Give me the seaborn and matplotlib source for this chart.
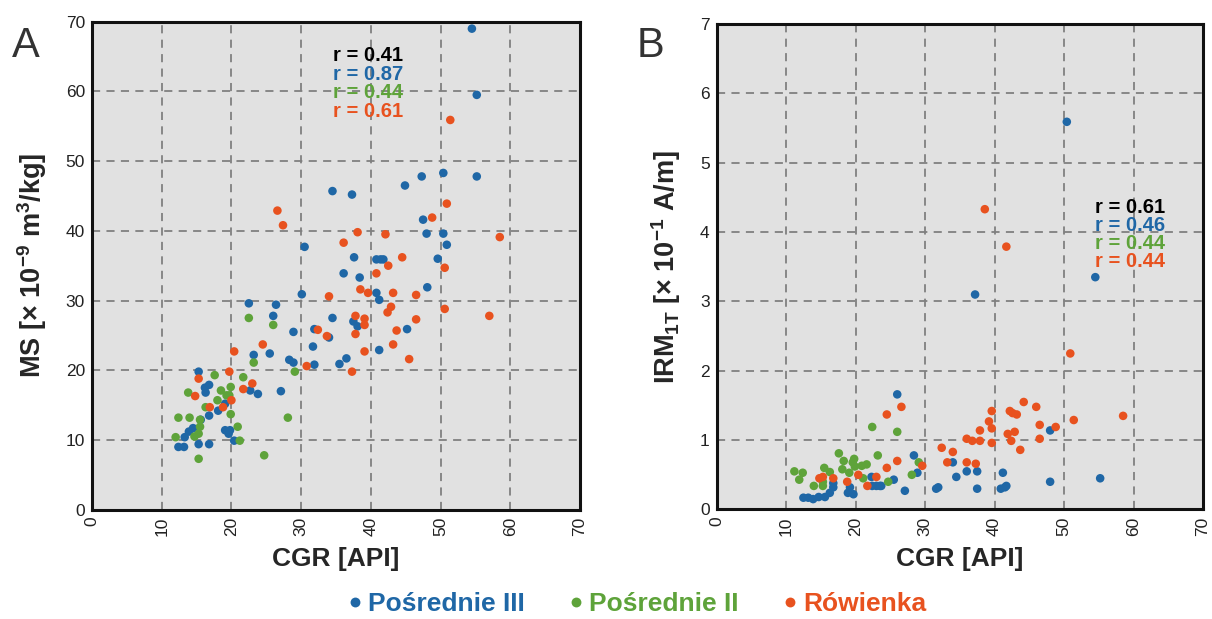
import numpy as np
import pandas as pd
import matplotlib
matplotlib.use("Agg")
import matplotlib.pyplot as plt
import seaborn as sns

# ---- data ----
groups = ["Pośrednie III", "Pośrednie II", "Rówienka"]
colors = ["#1f67a6", "#5ea33a", "#e8521f"]

# panel A: CGR vs MS
a_p3_x = [54.5, 55.2, 55.2, 50.4, 47.3, 44.9, 34.5, 37.3, 47.5, 48.0, 50.4, 50.9, 30.5, 37.6, 40.8, 41.4,
          41.8, 49.6, 36.1, 38.4, 48.1, 30.1, 40.8, 41.2, 22.5, 26.4, 26.0, 34.5, 37.5, 38.1, 45.2, 31.9,
          34.0, 28.9, 31.7, 41.2, 25.5, 23.2, 28.3, 28.9, 31.9, 35.5, 36.5, 15.3, 16.8, 16.2, 16.3, 22.7,
          23.8, 27.1, 19.1, 18.1, 16.8, 15.6, 14.5, 13.9, 13.3, 19.1, 19.8, 19.6, 20.4, 12.4, 13.2, 15.3, 16.8]
a_p3_y = [69.0, 59.5, 47.8, 48.3, 47.8, 46.5, 45.7, 45.2, 41.6, 39.6, 39.6, 38.0, 37.7, 36.2, 35.9, 35.9,
          35.9, 36.0, 33.9, 33.3, 31.9, 30.9, 31.1, 30.1, 29.6, 29.4, 27.8, 27.5, 27.0, 26.3, 25.9, 25.9,
          24.7, 25.5, 23.4, 22.9, 22.4, 22.2, 21.5, 21.1, 20.8, 20.9, 21.7, 19.8, 17.9, 17.5, 16.8, 17.1,
          16.6, 17.0, 15.2, 14.2, 13.5, 12.9, 11.7, 11.2, 10.4, 11.4, 11.4, 10.9, 9.9, 9.0, 9.0, 9.4, 9.4]
a_p2_x = [22.5, 26.0, 23.2, 29.1, 17.6, 21.7, 13.8, 18.5, 19.9, 19.3, 18.0, 19.7, 16.3, 19.9, 12.4, 14.0,
          15.5, 28.1, 20.9, 15.5, 15.3, 14.7, 12.0, 21.2, 15.3, 24.7]
a_p2_y = [27.5, 26.5, 21.1, 19.8, 19.3, 19.0, 16.8, 17.1, 17.6, 16.4, 15.7, 16.4, 14.7, 13.7, 13.2, 13.2,
          12.9, 13.2, 11.9, 11.9, 10.9, 10.5, 10.4, 9.9, 7.3, 7.8]
a_ro_x = [51.4, 50.9, 48.8, 26.6, 27.4, 38.1, 42.1, 36.1, 58.5, 44.5, 42.5, 50.6, 40.8, 34.0, 43.2, 46.5,
          38.5, 39.6, 50.6, 42.9, 42.4, 57.0, 46.5, 37.8, 39.1, 39.1, 43.7, 32.4, 33.7, 37.8, 43.2, 39.1,
          45.5, 24.5, 20.4, 30.8, 37.3, 19.7, 15.3, 23.0, 21.7, 14.8, 20.0, 16.9, 18.8]
a_ro_y = [55.9, 43.9, 41.9, 42.9, 40.8, 39.8, 39.5, 38.3, 39.1, 36.2, 35.0, 34.7, 33.9, 30.6, 31.1, 30.8,
          31.6, 31.1, 28.8, 29.1, 28.3, 27.8, 27.3, 27.8, 27.4, 26.5, 25.7, 25.8, 24.9, 25.2, 23.7, 22.7,
          21.6, 23.7, 22.7, 20.6, 19.8, 19.8, 18.8, 18.1, 17.3, 16.3, 15.7, 14.7, 14.7]

# panel B: CGR vs IRM1T
b_p3_x = [50.4, 54.5, 37.2, 26.0, 48.0, 28.4, 34.0, 28.9, 41.2, 36.0, 37.5, 34.5, 48.0, 55.2, 22.3, 25.5,
          23.0, 23.5, 22.4, 23.7, 27.1, 31.6, 31.9, 37.5, 40.9, 41.5, 41.7, 18.9, 19.7, 19.2, 16.8, 16.8,
          16.3, 15.6, 14.7, 13.9, 13.2, 12.5]
b_p3_y = [5.59, 3.35, 3.10, 1.66, 1.14, 0.78, 0.68, 0.53, 0.53, 0.55, 0.55, 0.47, 0.40, 0.45, 0.47, 0.43,
          0.34, 0.34, 0.34, 0.34, 0.27, 0.30, 0.32, 0.30, 0.30, 0.32, 0.34, 0.24, 0.22, 0.32, 0.38, 0.32,
          0.24, 0.18, 0.18, 0.15, 0.17, 0.17]
b_p2_x = [22.4, 26.0, 11.2, 12.4, 11.9, 14.0, 15.3, 15.3, 15.5, 16.3, 17.6, 18.3, 18.1, 19.1, 19.8, 19.6,
          19.9, 20.9, 21.6, 23.2, 21.1, 24.7, 28.1, 29.1]
b_p2_y = [1.19, 1.12, 0.55, 0.53, 0.43, 0.34, 0.34, 0.40, 0.60, 0.54, 0.81, 0.70, 0.58, 0.53, 0.73, 0.68,
          0.62, 0.63, 0.65, 0.78, 0.45, 0.40, 0.50, 0.68]
b_ro_x = [38.6, 41.7, 50.9, 26.6, 24.5, 44.2, 46.0, 39.6, 42.2, 42.6, 43.2, 58.5, 51.4, 39.2, 46.5, 48.8,
          39.6, 37.9, 41.9, 42.9, 36.0, 36.8, 37.9, 39.6, 42.4, 46.5, 43.7, 32.4, 34.0, 26.0, 33.2, 36.0,
          37.3, 29.6, 24.5, 20.4, 23.0, 14.8, 15.3, 16.8, 18.8, 21.7]
b_ro_y = [4.33, 3.79, 2.25, 1.48, 1.37, 1.55, 1.48, 1.42, 1.42, 1.39, 1.37, 1.35, 1.29, 1.27, 1.22, 1.19,
          1.17, 1.14, 1.09, 1.12, 1.02, 0.99, 0.99, 0.96, 0.99, 1.02, 0.86, 0.89, 0.83, 0.70, 0.68, 0.68,
          0.66, 0.63, 0.60, 0.50, 0.47, 0.45, 0.47, 0.45, 0.40, 0.34]

a_r_labels = ["r = 0.41", "r = 0.87", "r = 0.44", "r = 0.61"]
b_r_labels = ["r = 0.61", "r = 0.46", "r = 0.44", "r = 0.44"]


def make_df(xs, ys):
    parts = []
    for g, x, y in zip(groups, xs, ys):
        parts.append(pd.DataFrame({"CGR": x, "val": y, "group": g}))
    return pd.concat(parts, ignore_index=True)


df_a = make_df([a_p3_x, a_p2_x, a_ro_x], [a_p3_y, a_p2_y, a_ro_y])
df_b = make_df([b_p3_x, b_p2_x, b_ro_x], [b_p3_y, b_p2_y, b_ro_y])

sns.set_style("white")
plt.rcParams["font.family"] = ["Liberation Sans", "DejaVu Sans"]
# bold superscripts/subscripts in the axis labels
plt.rcParams["mathtext.fontset"] = "custom"
plt.rcParams["mathtext.rm"] = "Liberation Sans:bold"
plt.rcParams["mathtext.default"] = "rm"

fig = plt.figure(figsize=(12.12, 6.19), dpi=100)
ax_a = fig.add_axes([0.0759, 0.1766, 0.4026, 0.7884])
ax_b = fig.add_axes([0.5912, 0.1769, 0.4014, 0.7843])
palette = dict(zip(groups, colors))


def style_axis(ax, ymax, ystep, ylabel):
    ax.set_facecolor("#e1e1e1")
    ax.set_xlim(0, 70)
    ax.set_ylim(0, ymax)
    ax.set_xticks(np.arange(0, 71, 10))
    ax.set_yticks(np.arange(0, ymax + 0.001, ystep))
    ax.set_yticklabels([f"{int(v)}" for v in np.arange(0, ymax + 0.001, ystep)])
    ax.grid(True, color="#808080", linestyle=(0, (4.5, 3.5)), linewidth=1.3)
    ax.set_axisbelow(True)
    for s in ax.spines.values():
        s.set_visible(True)
        s.set_color("#111111")
        s.set_linewidth(2.2)
    ax.tick_params(length=0, labelsize=12.5, labelcolor="#222222", pad=5)
    ax.tick_params(axis="x", labelrotation=90)
    ax.set_xlabel("CGR [API]", fontsize=19, fontweight="bold", labelpad=8)
    ax.set_ylabel(ylabel, fontsize=19.5, fontweight="bold", labelpad=12)


for ax, df in [(ax_a, df_a), (ax_b, df_b)]:
    sns.scatterplot(data=df, x="CGR", y="val", hue="group", hue_order=groups, palette=palette,
                    s=38, linewidth=0, ax=ax, legend=(ax is ax_a))

style_axis(ax_a, 70, 10, r"MS [× 10$^{-9}$ m$^{3}$/kg]")
style_axis(ax_b, 7, 1, r"IRM$_{1T}$ [× 10$^{-1}$ A/m]")

# correlation annotations
r_colors = ["black"] + colors
for lab, c, yy in zip(a_r_labels, r_colors, [65.2, 62.4, 59.8, 57.1]):
    ax_a.text(34.6, yy, lab, color=c, fontsize=14.5, fontweight="bold", va="center", ha="left")
for lab, c, yy in zip(b_r_labels, r_colors, [4.36, 4.10, 3.83, 3.57]):
    ax_b.text(54.5, yy, lab, color=c, fontsize=14.5, fontweight="bold", va="center", ha="left")

fig.text(0.010, 0.908, "A", fontsize=30, color="#333333")
fig.text(0.525, 0.908, "B", fontsize=30, color="#333333")

# shared legend at the bottom
handles, labels = ax_a.get_legend_handles_labels()
ax_a.get_legend().remove()
leg = fig.legend(handles, labels, loc="center", bbox_to_anchor=(0.526, 0.024), ncol=3, frameon=False,
                 handlelength=0.5, handletextpad=0.25, columnspacing=1.7, markerscale=1.15,
                 prop={"size": 19, "weight": "bold"})
for t, c in zip(leg.get_texts(), colors):
    t.set_color(c)

fig.savefig("out.png", dpi=100)
